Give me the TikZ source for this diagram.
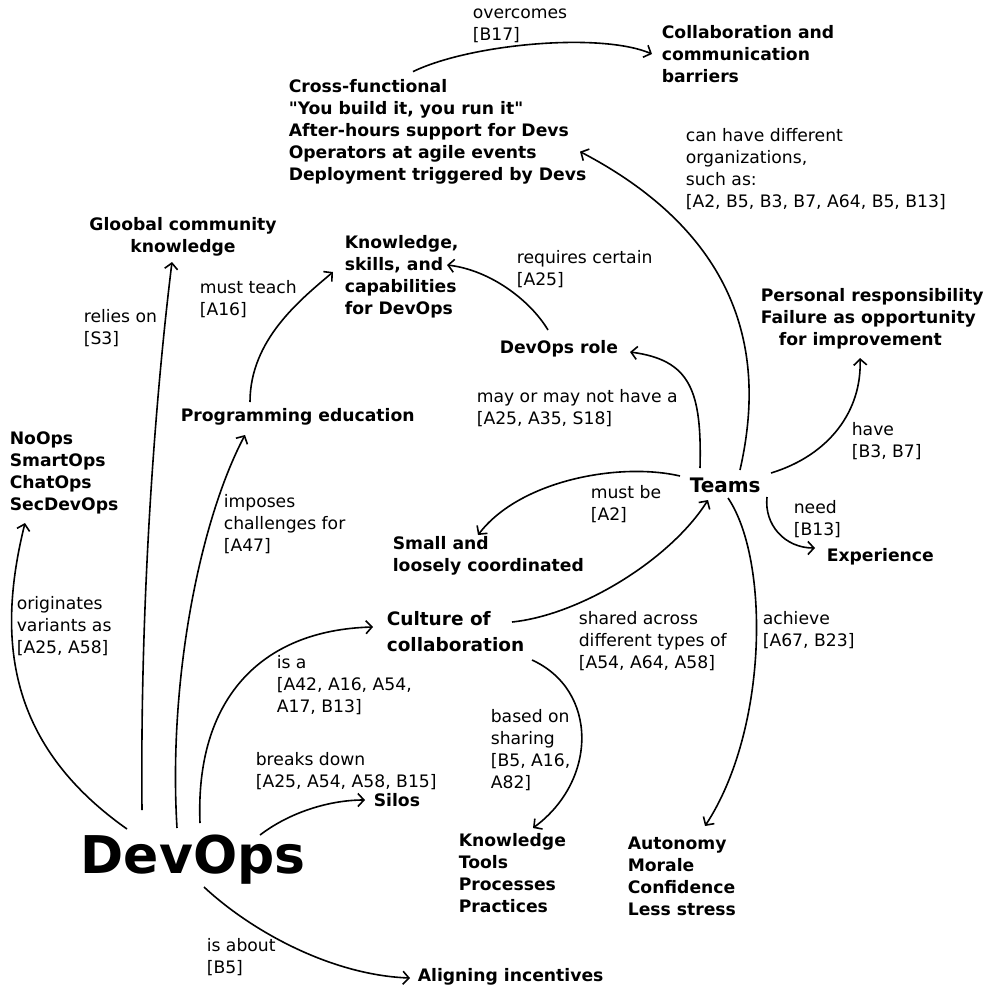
\documentclass[tikz,border=0pt]{standalone}
\usepackage{fontspec}
\setmainfont{DejaVu Sans}[Ligatures=TeXOff]
\usetikzlibrary{arrows.meta}

\begin{document}
\begin{tikzpicture}[x=1pt,y=-1pt,->,>={Straight Barb[length=6pt,width=13pt]},line width=1.6pt,
  concept node/.style={anchor=west,inner sep=0pt,align=left,font=\fontsize{17.2}{22}\selectfont\bfseries},
  link node/.style={anchor=west,inner sep=0pt,align=left,font=\fontsize{17.2}{22}\selectfont}]

 \useasboundingbox (0,0) rectangle (990,988);

 % concepts
 \node[concept node,anchor=base west,font=\fontsize{52}{60}\selectfont\bfseries] (devops) at (80,873) {DevOps};
 \node[concept node,font=\fontsize{20}{24}\selectfont\bfseries] (teams) at (689,485) {Teams};
 \node[concept node,font=\fontsize{18.5}{26}\selectfont\bfseries] (culture) at (386,632) {Culture of\\collaboration};
 \node[concept node] (collab) at (661,54) {Collaboration and\\communication\\barriers};
 \node[concept node] (crossfn) at (288,131.6) {Cross-functional\\"You build it, you run it"\\After-hours support for Devs\\Operators at agile events\\Deployment triggered by Devs};
 \node[concept node,anchor=center,align=center] (community) at (183,237) {Gloobal community\\knowledge};
 \node[concept node] (skills) at (344,277) {Knowledge,\\skills, and\\capabilities\\for DevOps};
 \node[concept node] (role) at (499,349) {DevOps role};
 \node[concept node] (responsibility) at (760,319) {Personal responsibility\\Failure as opportunity\\\hspace*{18pt}for improvement};
 \node[concept node] (education) at (180,417) {Programming education};
 \node[concept node] (variants) at (9,473) {NoOps\\SmartOps\\ChatOps\\SecDevOps};
 \node[concept node] (small) at (392,556) {Small and\\loosely coordinated};
 \node[concept node] (experience) at (826,557) {Experience};
 \node[concept node] (outcomes) at (627,876) {Autonomy\\Morale\\Confidence\\Less stress};
 \node[concept node] (shareables) at (458,873) {Knowledge\\Tools\\Processes\\Practices};
 \node[concept node] (silos) at (373,800) {Silos};
 \node[concept node] (incentives) at (417,977) {Aligning incentives};

 % link labels
 \node[link node] (l-overcomes) at (472,26) {overcomes\\{}[B17]};
 \node[link node] (l-organizations) at (685,169) {can have different\\organizations,\\such as:\\{}[A2, B5, B3, B7, A64, B5, B13]};
 \node[link node] (l-relies) at (83,328) {relies on\\{}[S3]};
 \node[link node] (l-teach) at (199,299) {must teach\\{}[A16]};
 \node[link node] (l-requires) at (516,269) {requires certain\\{}[A25]};
 \node[link node] (l-may) at (476,408) {may or may not have a\\{}[A25, A35, S18]};
 \node[link node] (l-have) at (851,441) {have\\{}[B3, B7]};
 \node[link node] (l-originates) at (16,626) {originates\\variants as\\{}[A25, A58]};
 \node[link node] (l-mustbe) at (590,504) {must be\\{}[A2]};
 \node[link node] (l-need) at (793,519) {need\\{}[B13]};
 \node[link node] (l-imposes) at (223,524) {imposes\\challenges for\\{}[A47]};
 \node[link node] (l-shared) at (578,641) {shared across\\different types of\\{}[A54, A64, A58]};
 \node[link node] (l-isa) at (276,685) {is a\\{}[A42, A16, A54,\\A17, B13]};
 \node[link node] (l-achieve) at (762,630) {achieve\\{}[A67, B23]};
 \node[link node] (l-based) at (490,750) {based on\\sharing\\{}[B5, A16,\\A82]};
 \node[link node] (l-breaks) at (255,771) {breaks down\\{}[A25, A54, A58, B15]};
 \node[link node] (l-about) at (206,957) {is about\\{}[B5]};

 % links
 \draw ([shift={(125,-60)}]crossfn.west) .. controls (470,44) and (600,32) .. ([shift={(-9,0)}]collab.west);
 \draw ([shift={(51,-15)}]teams.west) .. controls (758,390) and (768,250) .. ([shift={(292,20)}]crossfn.west);
 \draw ([shift={(62,-63)}]devops.base west) .. controls (140,600) and (155,400) .. ([shift={(-11,25)}]community.center);
 \draw ([shift={(70,-15)}]education.west) .. controls (250,340) and (300,300) .. ([shift={(-11,-5)}]skills.west);
 \draw ([shift={(49,-19)}]role.west) .. controls (530,300) and (490,270) .. ([shift={(103,-12)}]skills.west);
 \draw ([shift={(11,-17)}]teams.west) .. controls (702,390) and (690,360) .. ([shift={(131,3)}]role.west);
 \draw ([shift={(82,-12)}]teams.west) .. controls (830,455) and (862,410) .. ([shift={(100,39)}]responsibility.west);
 \draw ([shift={(-9,-9)}]teams.west) .. controls (620,462) and (520,480) .. ([shift={(86,-21)}]small.west);
 \draw ([shift={(78,12)}]teams.west) .. controls (764,525) and (785,548) .. ([shift={(-11,-9)}]experience.west);
 \draw ([shift={(47,-44)}]devops.base west) .. controls (8,745) and (-4,640) .. ([shift={(16,50)}]variants.west);
 \draw ([shift={(97,-45)}]devops.base west) .. controls (168,680) and (200,520) .. ([shift={(65,18)}]education.west);
 \draw ([shift={(120,-50)}]devops.base west) .. controls (195,700) and (260,630) .. ([shift={(-13,-5)}]culture.west);
 \draw ([shift={(180,-38)}]devops.base west) .. controls (290,812) and (330,800) .. ([shift={(-8,0)}]silos.west);
 \draw ([shift={(124,14)}]devops.base west) .. controls (250,930) and (330,975) .. ([shift={(-7,1)}]incentives.west);
 \draw ([shift={(126,-10)}]culture.west) .. controls (580,615) and (670,560) .. ([shift={(19,15)}]teams.west);
 \draw ([shift={(39,13)}]teams.west) .. controls (770,560) and (768,730) .. ([shift={(78,-50)}]outcomes.west);
 \draw ([shift={(146,28)}]culture.west) .. controls (598,690) and (598,780) .. ([shift={(75,-45)}]shareables.west);

\end{tikzpicture}
\end{document}
